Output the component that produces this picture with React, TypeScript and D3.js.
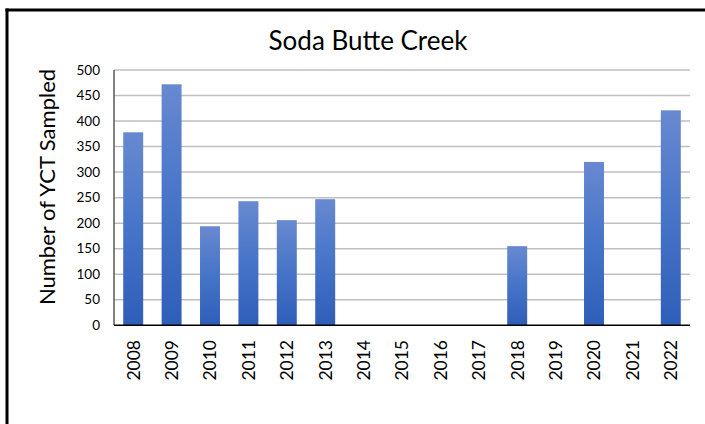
import React from "react";
import * as d3 from "d3";

const years = ["2008","2009","2010","2011","2012","2013","2014","2015","2016","2017","2018","2019","2020","2021","2022"];
const counts = [378, 472, 194, 243, 206, 247, 0, 0, 0, 0, 155, 0, 320, 0, 421];
const yTicks = [0, 50, 100, 150, 200, 250, 300, 350, 400, 450, 500];
const title = "Soda Butte Creek";
const yLabel = "Number of YCT Sampled";

const W = 705, H = 424;
const left = 114, right = 690, top = 70, bottom = 325.3;
const FONT = "Lato, 'Open Sans', 'Noto Sans', sans-serif";

export default function App() {
  const x = d3.scaleBand<string>().domain(years).range([left, right]).paddingInner(0.48).paddingOuter(0.24);
  const y = d3.scaleLinear().domain([0, 500]).range([bottom, top]);
  return (
    <svg width={W} height={H} style={{ position: "absolute", left: 0, top: 0, background: "#fff" }}>
      <defs>
        <linearGradient id="barGrad" x1="0" y1="0" x2="0" y2="1">
          <stop offset="0%" stopColor="#6889d0" />
          <stop offset="50%" stopColor="#4674c8" />
          <stop offset="100%" stopColor="#2f5eb9" />
        </linearGradient>
      </defs>
      <rect x={0} y={0} width={W} height={H} fill="#fff" />
      <line x1={7} y1={8.5} x2={7} y2={H} stroke="#000" strokeWidth={3} />
      <line x1={5.5} y1={10} x2={W} y2={10} stroke="#000" strokeWidth={3} />
      <text x={368} y={50} textAnchor="middle" fontFamily={FONT} fontSize={26} fill="#000">{title}</text>
      {yTicks.slice(1).map(t => (
        <line key={t} x1={left} x2={right} y1={y(t)} y2={y(t)} stroke="#bfbfbf" strokeWidth={1.5} />
      ))}
      {yTicks.map(t => (
        <text key={"l" + t} x={100} y={y(t)} dy="0.35em" textAnchor="end" fontFamily={FONT} fontSize={13.5} fill="#000">{t}</text>
      ))}
      {years.map((yr, i) => counts[i] > 0 ? (
        <rect key={yr} x={x(yr)} y={y(counts[i])} width={x.bandwidth()} height={y(0) - y(counts[i])} fill="url(#barGrad)" />
      ) : null)}
      <line x1={left} x2={left} y1={top} y2={bottom} stroke="#595959" strokeWidth={1.5} />
      <line x1={left} x2={right} y1={bottom} y2={bottom} stroke="#000" strokeWidth={1.5} />
      {years.map(yr => {
        const cx = (x(yr) as number) + x.bandwidth() / 2;
        return (
          <text key={"x" + yr} transform={`translate(${cx},340) rotate(-90)`} dy="0.36em" textAnchor="end" fontFamily={FONT} fontSize={17.5} fill="#000">{yr}</text>
        );
      })}
      <text transform={`translate(47,187) rotate(-90)`} dy="0.36em" textAnchor="middle" fontFamily={FONT} fontSize={22} fill="#000">{yLabel}</text>
    </svg>
  );
}
